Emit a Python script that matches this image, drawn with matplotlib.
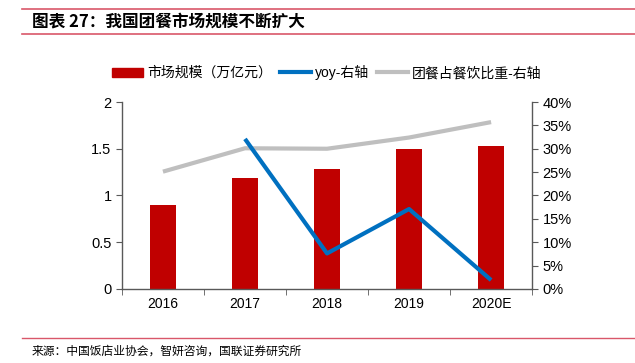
import matplotlib
matplotlib.use("Agg")
import matplotlib.pyplot as plt
from matplotlib.lines import Line2D
from matplotlib.patches import Patch
import numpy as np

plt.rcParams['font.family'] = ['Liberation Sans', 'Noto Sans CJK SC', 'DejaVu Sans']

categories = ['2016', '2017', '2018', '2019', '2020E']
market_size = [0.90, 1.19, 1.28, 1.50, 1.53]          # 万亿元
yoy = [None, 32.1, 7.6, 17.1, 1.9]                     # %
share = [25.1, 30.1, 30.0, 32.4, 35.7]                 # %

title = '图表 27：我国团餐市场规模不断扩大'
source = '来源：中国饭店业协会，智妍咨询，国联证券研究所'
legend_labels = ['市场规模（万亿元）', 'yoy-右轴', '团餐占餐饮比重-右轴']

red = '#C00000'
blue = '#0070C0'
gray = '#BFBFBF'
axis_col = '#595959'
line_col = '#D9576A'

fig = plt.figure(figsize=(6.35, 3.63), dpi=100)
ax = fig.add_axes([0.192, 0.204, 0.646, 0.515])
ax2 = ax.twinx()

x = np.arange(len(categories))
ax.bar(x, market_size, width=0.31, color=red, zorder=2)
ax.set_ylim(0, 2)
ax.set_yticks([0, 0.5, 1, 1.5, 2])
ax.set_yticklabels(['0', '0.5', '1', '1.5', '2'])
ax.set_xlim(-0.5, len(categories) - 0.5)
ax.set_xticks(x)
ax.set_xticklabels(categories)
ax.set_xticks(np.arange(-0.5, len(categories), 1), minor=True)
ax.tick_params(axis='x', which='major', length=0, pad=6, labelsize=10)
ax.tick_params(axis='x', which='minor', length=4, direction='out', color=axis_col)
ax.tick_params(axis='y', length=4, direction='out', color=axis_col, labelsize=10.5)

yx = [i for i, v in enumerate(yoy) if v is not None]
yv = [v for v in yoy if v is not None]
ax2.plot(x, share, color=gray, lw=3, zorder=3, solid_capstyle='butt')
ax2.plot(yx, yv, color=blue, lw=3, zorder=4, solid_capstyle='butt')
ax2.set_ylim(0, 40)
ax2.set_yticks(range(0, 41, 5))
ax2.set_yticklabels([f'{v}%' for v in range(0, 41, 5)])
ax2.tick_params(axis='y', length=4, direction='out', color=axis_col, labelsize=10.5)

for a in (ax, ax2):
    a.spines['top'].set_visible(False)
    for s in ('left', 'right', 'bottom'):
        a.spines[s].set_color(axis_col)
        a.spines[s].set_linewidth(1.0)
ax.spines['right'].set_visible(False)
ax2.spines['left'].set_visible(False)
ax2.spines['bottom'].set_visible(False)

handles = [Patch(color=red), Line2D([], [], color=blue, lw=3), Line2D([], [], color=gray, lw=3)]
fig.legend(handles, legend_labels, loc='center', bbox_to_anchor=(0.515, 0.8), ncol=3,
           frameon=False, fontsize=10, handlelength=2.2, handleheight=0.6,
           columnspacing=0.6, handletextpad=0.3)

# title and decorative lines
fig.add_artist(Line2D([0.035, 1.0], [1 - 9 / 363, 1 - 9 / 363], color=line_col, lw=1.2))
fig.add_artist(Line2D([0.035, 1.0], [1 - 34 / 363, 1 - 34 / 363], color=line_col, lw=1.2))
fig.text(0.05, 1 - 21 / 363, title, fontsize=12, fontstyle='italic', fontweight='bold',
         va='center', ha='left', family=['Noto Sans CJK SC', 'DejaVu Sans'])
fig.add_artist(Line2D([0.035, 1.0], [1 - 338 / 363, 1 - 338 / 363], color=line_col, lw=1.0))
fig.text(0.05, 1 - 351 / 363, source, fontsize=8.5, va='center', ha='left',
         family=['Noto Sans CJK SC', 'DejaVu Sans'])

fig.savefig('out.png', dpi=100)
